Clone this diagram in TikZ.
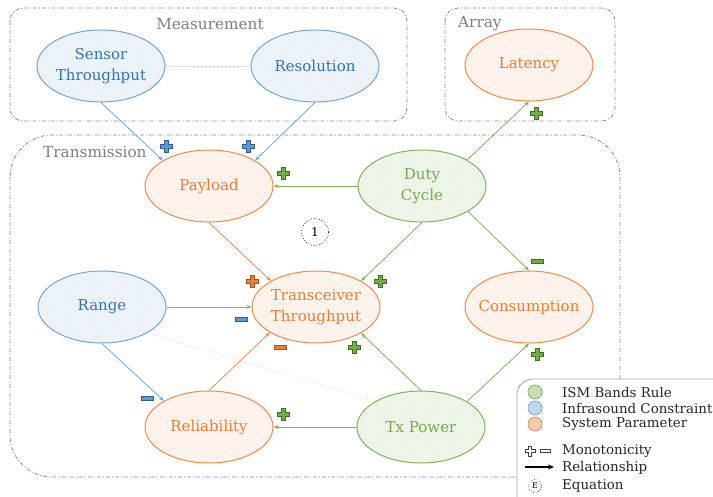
\documentclass[tikz,border=0pt]{standalone}
\usepackage{fontspec}
\setmainfont{DejaVu Serif}
\usetikzlibrary{shapes.geometric,arrows.meta,patterns}
\definecolor{bstroke}{HTML}{6FA6DB}
\definecolor{btext}{HTML}{2E75B6}
\definecolor{bfill}{HTML}{F3F7FC}
\definecolor{ostroke}{HTML}{F08A4B}
\definecolor{otext}{HTML}{ED7D31}
\definecolor{ofill}{HTML}{FEF4EE}
\definecolor{gstroke}{HTML}{7DB556}
\definecolor{gtext}{HTML}{70AD47}
\definecolor{gfill}{HTML}{F4F9F0}
\definecolor{titlegray}{HTML}{7F7F7F}
\definecolor{boxgray}{HTML}{8C8C8C}
\definecolor{dotgray}{HTML}{C8C8C8}
\definecolor{sgreen}{HTML}{70AD47}
\definecolor{sgreenD}{HTML}{3F6E25}
\definecolor{sblue}{HTML}{5B9BD5}
\definecolor{sblueD}{HTML}{2F5F8F}
\definecolor{sorange}{HTML}{ED7D31}
\definecolor{sorangeD}{HTML}{A9521C}
\newcommand\plusicon[4][1]{\begin{scope}[shift={(#2)},scale=#1]\filldraw[fill=#3,draw=#4,line width=0.6pt] (-2,-6) -- ++(4,0) -- ++(0,4) -- ++(4,0) -- ++(0,4) -- ++(-4,0) -- ++(0,4) -- ++(-4,0) -- ++(0,-4) -- ++(-4,0) -- ++(0,-4) -- ++(4,0) -- cycle;\end{scope}}
\newcommand\minusicon[4][1]{\begin{scope}[shift={(#2)},scale=#1]\filldraw[fill=#3,draw=#4,line width=0.6pt] (-6,-2.2) rectangle (6,2.2);\end{scope}}
\begin{document}
\begin{tikzpicture}[x=1pt,y=-1pt,
  ell/.style={ellipse, minimum width=128pt, minimum height=72pt, inner sep=-12pt, align=center,
    font=\fontsize{15}{21}\selectfont, line width=1pt},
  bnode/.style={ell, draw=bstroke, preaction={fill=bfill}, pattern=north east lines, pattern color=bstroke!22, text=btext},
  onode/.style={ell, draw=ostroke, preaction={fill=ofill}, pattern=grid, pattern color=ostroke!12, text=otext},
  gnode/.style={ell, draw=gstroke, preaction={fill=gfill}, pattern=north east lines, pattern color=gstroke!22, text=gtext},
  grpbox/.style={draw=boxgray, line width=0.8pt, dash pattern=on 4pt off 2pt on 1pt off 2pt},
  grptitle/.style={text=titlegray, font=\fontsize{15.3}{18}\selectfont, inner sep=0pt},
  arr/.style={-{Stealth[length=5pt,width=4pt]}, line width=0.8pt},
  barr/.style={arr, draw=bstroke},
  oarr/.style={arr, draw=ostroke},
  garr/.style={arr, draw=gstroke},
  dotl/.style={draw=dotgray, dotted, line width=0.7pt},
  legtext/.style={anchor=west, font=\fontsize{13.4}{15}\selectfont, inner sep=0pt, text=black!85}
]
\useasboundingbox (0,0) rectangle (713,496);

% group boxes
\draw[grpbox, rounded corners=13] (10,8) rectangle (407,121);
\draw[grpbox, rounded corners=13] (445,8) rectangle (615,121);
\draw[grpbox, rounded corners=42] (10,135) rectangle (620,477);
\node[grptitle] (tmeas) at (210,24) {Measurement};
\node[grptitle, anchor=west] (tarr) at (458,24) {Array};
\node[grptitle, anchor=west] (ttrans) at (43,152) {Transmission};

% nodes
\node[bnode] (sensor) at (101,66) {Sensor\\Throughput};
\node[bnode] (resol) at (315,66) {Resolution};
\node[onode] (lat) at (529,65) {Latency};
\node[onode] (pay) at (209,186) {Payload};
\node[gnode] (duty) at (422,186) {Duty\\Cycle};
\node[bnode] (range) at (102,307) {Range};
\node[onode] (trans) at (316,307) {Transceiver\\Throughput};
\node[onode] (cons) at (529,307) {Consumption};
\node[onode] (rel) at (209,427) {Reliability};
\node[gnode] (tx) at (421,427) {Tx Power};

\node[circle, draw, dotted, line width=0.7pt, minimum size=27pt, inner sep=0pt, font=\fontsize{12}{12}\selectfont] (eq1) at (315,232) {1};

% dotted links
\draw[dotl] (sensor.east) -- (resol.west);
\draw[dotl] (range.-30) -- (tx.150);

% connectors
\draw[barr] (sensor.south) -- (pay.151);
\draw[barr] (resol.south) -- (pay.29);
\draw[garr] (duty.west) -- (pay.east);
\draw[garr] (duty.30) -- (lat.south);
\draw[oarr] (pay.south) -- (trans.150);
\draw[garr] (duty.south) -- (trans.30);
\draw[garr] (duty.-29) -- (cons.north);
\draw[barr] (range.east) -- (trans.west);
\draw[barr] (range.south) -- (rel.150);
\draw[oarr] (rel.north) -- (trans.-151);
\draw[garr] (tx.north) -- (trans.-30);
\draw[garr] (tx.west) -- (rel.east);
\draw[garr] (tx.29) -- (cons.south);

% monotonicity signs
\plusicon{166,146}{sblue}{sblueD}
\plusicon{248,146}{sblue}{sblueD}
\plusicon{283,173}{sgreen}{sgreenD}
\plusicon{536,113}{sgreen}{sgreenD}
\plusicon{252,281}{sorange}{sorangeD}
\plusicon{380,281}{sgreen}{sgreenD}
\minusicon{537,261}{sgreen}{sgreenD}
\minusicon{241,319}{sblue}{sblueD}
\minusicon{280,347}{sorange}{sorangeD}
\plusicon{354,347}{sgreen}{sgreenD}
\plusicon{537,354}{sgreen}{sgreenD}
\minusicon{147,398}{sblue}{sblueD}
\plusicon{283,414}{sgreen}{sgreenD}

% legend
\draw[draw=boxgray!80, fill=white, line width=0.8pt, rounded corners=16] (517,379) rectangle (740,520);
\filldraw[draw=gstroke, fill=gstroke!45, line width=0.7pt] (535,392) circle (7);
\filldraw[draw=bstroke, fill=bstroke!45, line width=0.7pt] (535,408) circle (7);
\filldraw[draw=ostroke, fill=ostroke!45, line width=0.7pt] (535,424) circle (7);
\node[legtext] (l1) at (562,392) {ISM Bands Rule};
\node[legtext] (l2) at (562,408) {Infrasound Constraint};
\node[legtext] (l3) at (562,424) {System Parameter};
\plusicon[0.8]{530,451}{white}{black!75}
\minusicon[0.8]{545,451}{white}{black!75}
\node[legtext] (l4) at (562,451) {Monotonicity};
\coordinate (la) at (525,467);
\coordinate (lb) at (554,467);
\draw[-{Stealth[length=6pt,width=5pt]}, line width=1.4pt] (la) -- (lb);
\node[legtext] (l5) at (562,468) {Relationship};
\node[circle, draw, dotted, line width=0.6pt, minimum size=13pt, inner sep=0pt, font=\fontsize{8}{8}\selectfont] (le) at (535,486) {E};
\node[legtext] (l6) at (562,486) {Equation};
\end{tikzpicture}
\end{document}
